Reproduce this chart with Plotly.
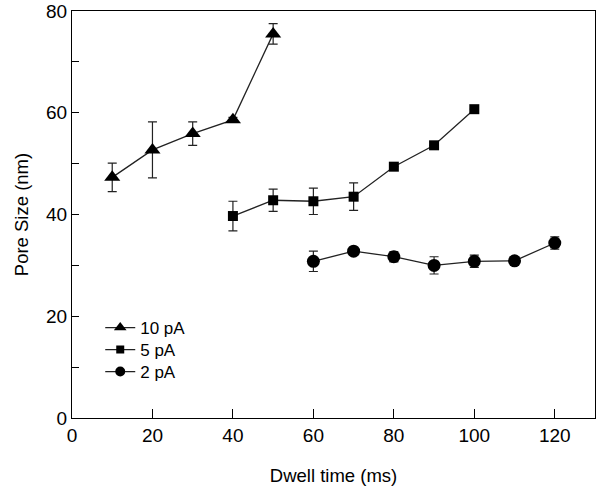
import plotly.graph_objects as go

x10 = [10, 20, 30, 40, 50]
y10 = [47.3, 52.7, 55.9, 58.6, 75.5]
e10 = [2.8, 5.5, 2.3, 0.5, 2.0]

x5 = [40, 50, 60, 70, 80, 90, 100]
y5 = [39.7, 42.8, 42.6, 43.5, 49.4, 53.6, 60.7]
e5 = [2.9, 2.2, 2.6, 2.7, 0.0, 0.0, 0.0]

x2 = [60, 70, 80, 90, 100, 110, 120]
y2 = [30.8, 32.8, 31.7, 30.0, 30.8, 30.9, 34.4]
e2 = [2.0, 0.5, 1.0, 1.7, 1.2, 0.0, 1.2]

names = ["10 pA", "5 pA", "2 pA"]
font = "Liberation Sans, Arial, sans-serif"

series = [
    (x10, y10, e10, names[0], "triangle-up", 14, 11),
    (x5, y5, e5, names[1], "square", 10, 8),
    (x2, y2, e2, names[2], "circle", 13, 10),
]
legend_ids = ["legend", "legend2", "legend3"]
legend_tops = [0.2654, 0.2113, 0.1572]

fig = go.Figure()
for xs, ys, es, nm, sym, sz, lsz in series:
    fig.add_trace(go.Scatter(
        x=xs, y=ys, name=nm, mode="lines+markers", showlegend=False,
        line=dict(color="#222", width=1.3),
        marker=dict(symbol=sym, size=sz, color="black"),
        error_y=dict(type="data", array=es, visible=True, color="#222", thickness=1.2, width=4.5),
    ))
for (xs, ys, es, nm, sym, sz, lsz), lid in zip(series, legend_ids):
    fig.add_trace(go.Scatter(
        x=[None], y=[None], name=nm, mode="lines+markers", showlegend=True,
        legend=lid,
        line=dict(color="#222", width=1.3),
        marker=dict(symbol=sym, size=lsz, color="black"),
    ))

leg_common = dict(x=0.054, xanchor="left", yanchor="top",
                  bgcolor="rgba(0,0,0,0)", font=dict(size=17), itemsizing="trace")

fig.update_layout(
    width=601, height=487,
    margin=dict(l=72, r=6, t=11, b=69, autoexpand=False),
    paper_bgcolor="white", plot_bgcolor="white",
    font=dict(family=font, size=19, color="black"),
    showlegend=True,
    legend=dict(y=legend_tops[0], **leg_common),
    legend2=dict(y=legend_tops[1], **leg_common),
    legend3=dict(y=legend_tops[2], **leg_common),
    xaxis=dict(range=[0, 130], tickvals=[0, 20, 40, 60, 80, 100, 120],
               ticks="inside", ticklen=9, tickcolor="black", tickwidth=1,
               showline=True, linecolor="black", linewidth=1.2, mirror=True,
               showgrid=False, zeroline=False, automargin=False,
               title=dict(text="Dwell time (ms)", font=dict(size=18.5), standoff=24)),
    yaxis=dict(range=[0, 80], tickvals=[0, 10, 20, 30, 40, 50, 60, 70, 80],
               ticktext=["0", "", "20", "", "40", "", "60", "", "80"],
               ticks="inside", ticklen=7, tickcolor="black", tickwidth=1,
               showline=True, linecolor="black", linewidth=1.2, mirror=True,
               showgrid=False, zeroline=False, automargin=False,
               title=dict(text="Pore Size (nm)", font=dict(size=18.5), standoff=12)),
)

fig.write_html("out.html", config={"displayModeBar": False},
               post_script="document.body.style.margin='0';")
